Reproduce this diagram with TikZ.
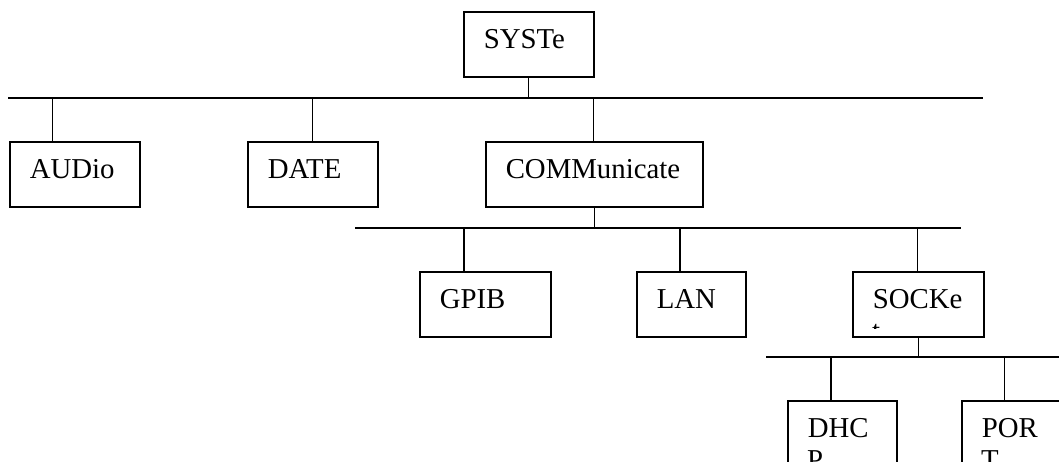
\documentclass[tikz,border=0pt]{standalone}
\usepackage{fontspec}
\setmainfont{Liberation Serif}
\usetikzlibrary{positioning,calc}

\begin{document}
\begin{tikzpicture}[
  x=1pt, y=-1pt,
  every node/.style={font=\fontsize{28.8}{32}\selectfont},
  box/.style={draw, line width=1.5pt, anchor=north west, inner xsep=20pt, inner ysep=0pt,
              align=left, text height=37pt, text depth=28pt},
  nextline/.style={anchor=base west, inner sep=0pt},
  bus/.style={line width=2pt},
  stem/.style={line width=1.4pt},
]
  \useasboundingbox (0,0) rectangle (1059,461);

  \node[box, text width=90pt]  (syste) at (463,11)  {SYSTe};

  \node[box, text width=90pt]  (audio) at (9,141)   {AUDio};
  \node[box, text width=90pt]  (date)  at (247,141) {DATE};
  \node[box, text width=177pt] (comm)  at (485,141) {COMMunicate};

  \node[box, text width=91pt]  (gpib)  at (419,271) {GPIB};
  \node[box, text width=69pt]  (lan)   at (636,271) {LAN};
  \node[box, text width=91pt]  (socke) at (852,271) {SOCKe};

  \node[box, text width=69pt]  (dhcp)  at (787,400) {DHC};
  \node[box, text width=69pt]  (port)  at (961,400) {POR};

  \begin{scope}
    \clip (socke.north west) rectangle ([yshift=9pt]socke.south east);
    \node[nextline] (socke2) at ([xshift=20pt,yshift=-69pt]socke.north west) {t};
  \end{scope}
  \node[nextline] (dhcp2) at ([xshift=20pt,yshift=-69pt]dhcp.north west) {P};
  \node[nextline] (port2) at ([xshift=20pt,yshift=-69pt]port.north west) {T};

  \coordinate (bus1w) at (8,97.5);    \coordinate (bus1e) at (983,97.5);
  \coordinate (bus2w) at (355,227.5); \coordinate (bus2e) at (961,227.5);
  \coordinate (bus3w) at (766,357);   \coordinate (bus3e) at (1062,357);

  \draw[bus] (bus1w) -- (bus1e);
  \draw[bus] (bus2w) -- (bus2e);
  \draw[bus] (bus3w) -- (bus3e);

  \draw[stem] (syste) -- (syste |- bus1w);
  \draw[stem] (comm) -- (comm |- bus2w);
  \draw[stem] (socke) -- (socke |- bus3w);

  \foreach \n/\x/\y in {audio/52.7/97.5, date/312.3/97.5, comm/593.3/97.5,
                        gpib/464/227.5, lan/680/227.5, socke/917.7/227.5,
                        dhcp/831/357, port/1004.3/357}
  {
    \coordinate (j-\n) at (\x,\y);
    \draw[stem] (j-\n) -- (j-\n |- \n.north);
  }
\end{tikzpicture}
\end{document}
